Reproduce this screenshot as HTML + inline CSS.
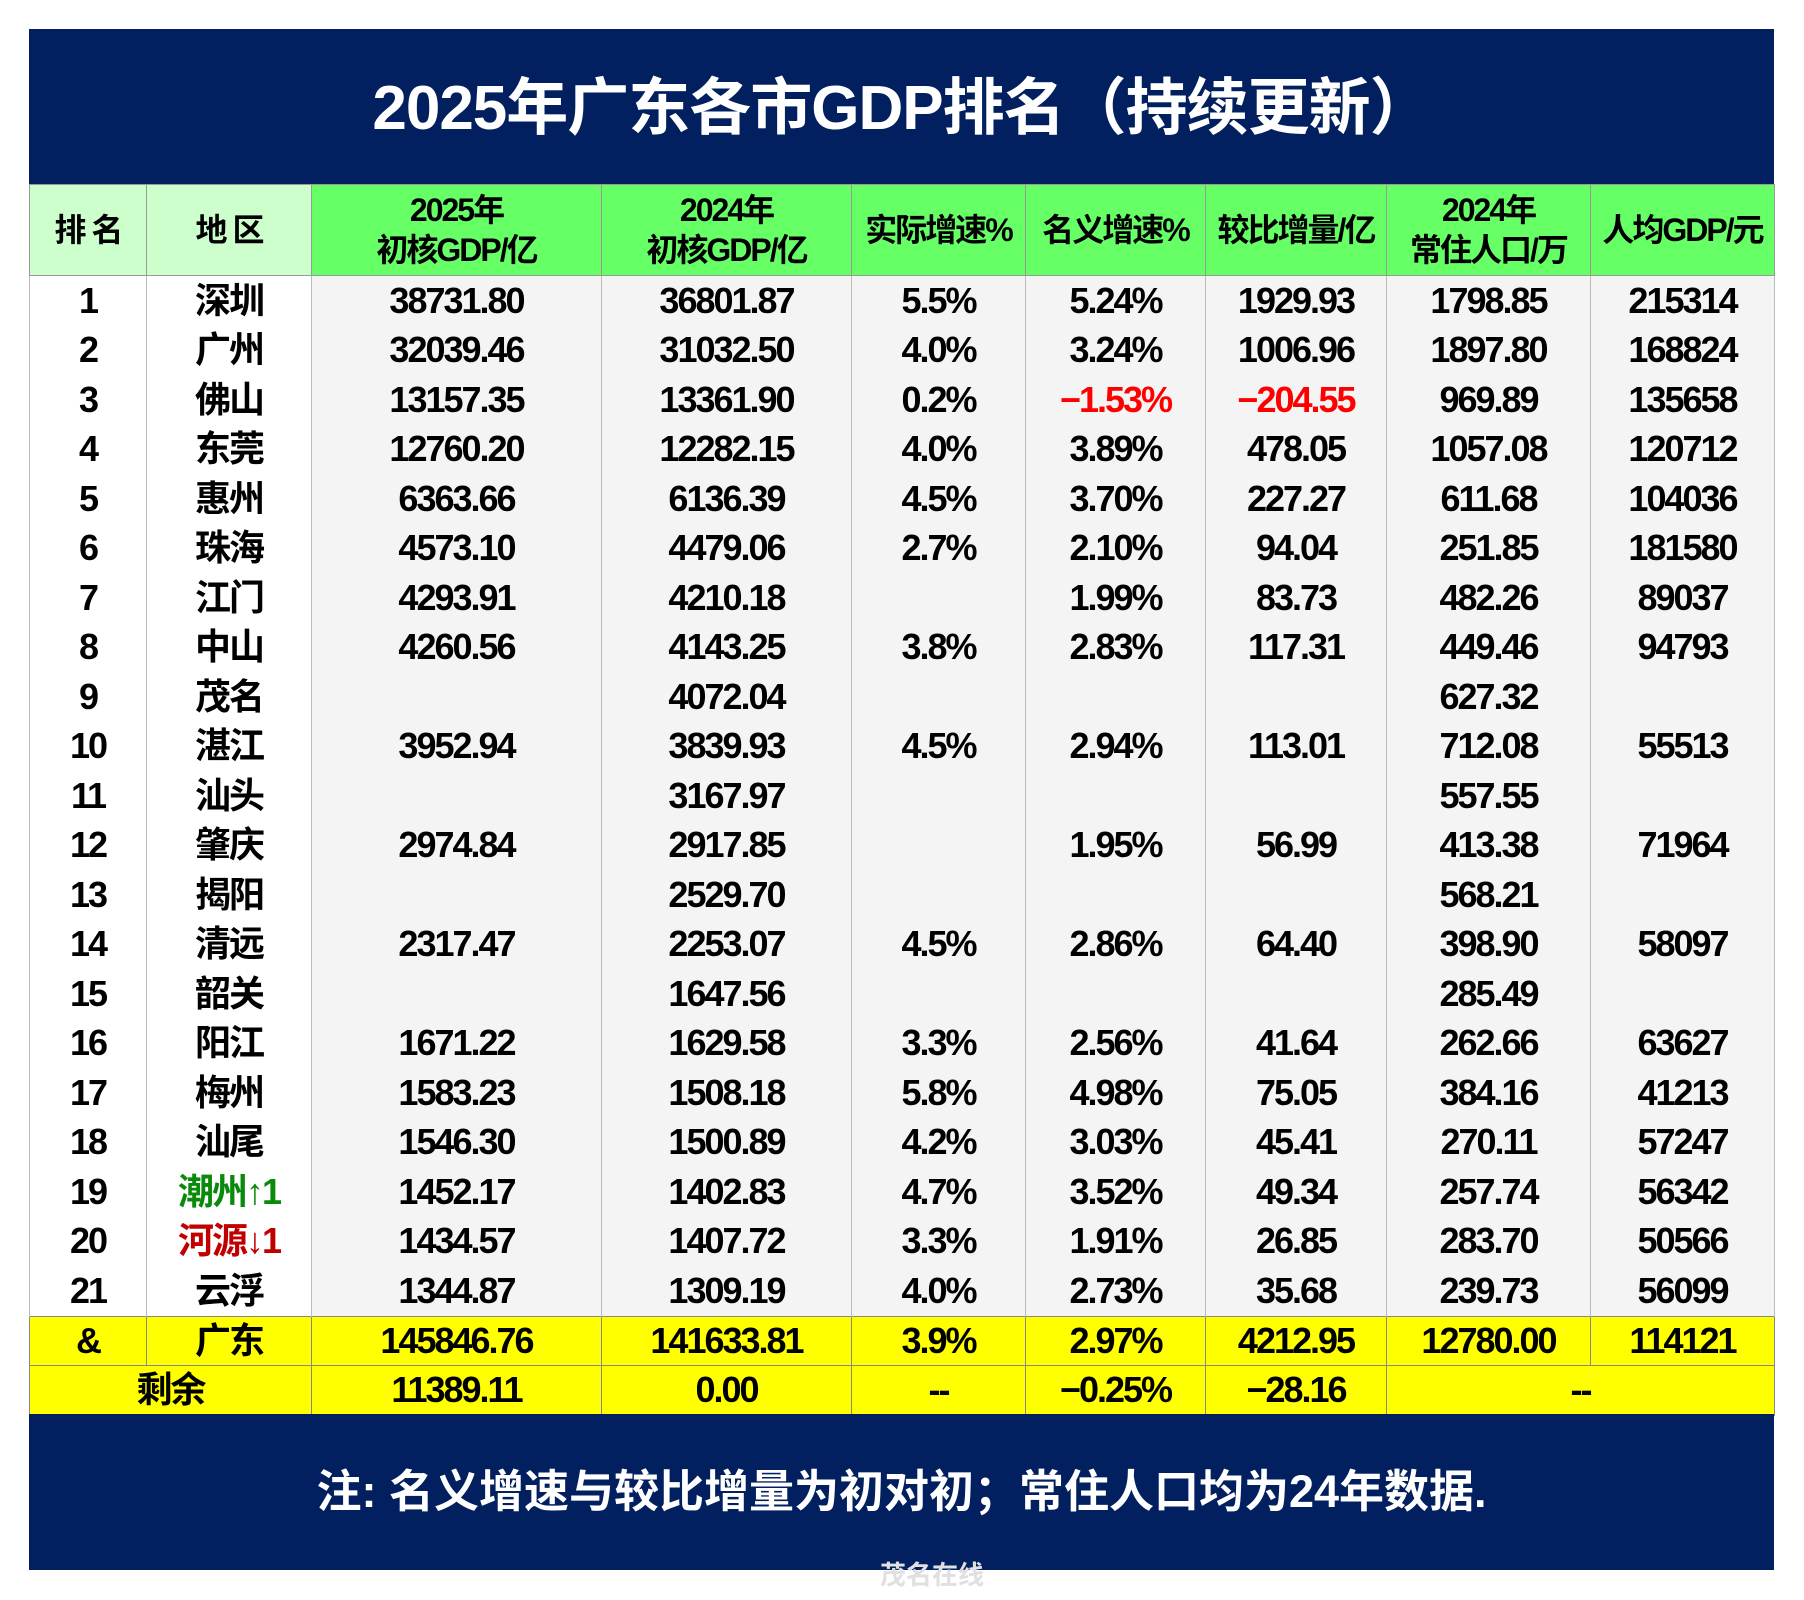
<!DOCTYPE html>
<html><head><meta charset="utf-8"><style>
body{margin:0;width:1804px;height:1600px;background:#fff;position:relative;font-family:"Liberation Sans","Noto Sans CJK SC",sans-serif;font-weight:bold;overflow:hidden}
.band{position:absolute;left:29px;width:1745px;background:#02205f;color:#fff;text-align:center}
#t{top:29px;height:155px;line-height:160px;font-size:62px;letter-spacing:-1px}
#f{top:1414px;height:156px;line-height:156px;font-size:45px}
table{position:absolute;left:29px;top:184px;border-collapse:collapse;table-layout:fixed;width:1745px}
td{border-left:1px solid #bbb;border-right:1px solid #bbb;border-top:none;border-bottom:none;text-align:center;padding:0;font-size:36px;line-height:40px;letter-spacing:-2px;color:#000;background:#f4f4f4;height:49.5px;max-height:49.5px;white-space:nowrap;overflow:hidden}
td.w{background:#fff}
tr.h td{background:#66ff66;height:90px;max-height:90px;font-size:32px;line-height:40px;border:1px solid #999}
tr.h td.l{background:#ccffcc}
tr.y td{background:#ffff00;border:1px solid #888;height:48.5px}
.r{color:#ff0000}.g{color:#0a8a0a}.d{color:#c00000}
</style></head><body>
<div class="band" id="t">2025年广东各市GDP排名（持续更新）</div>
<table>
<colgroup><col style="width:117px"><col style="width:165px"><col style="width:290px"><col style="width:250px"><col style="width:174px"><col style="width:180px"><col style="width:181px"><col style="width:204px"><col style="width:184px"></colgroup>
<tr class="h"><td class="l">排 名</td><td class="l">地 区</td><td>2025年<br>初核GDP/亿</td><td>2024年<br>初核GDP/亿</td><td>实际增速%</td><td>名义增速%</td><td>较比增量/亿</td><td>2024年<br>常住人口/万</td><td>人均GDP/元</td></tr>
<tr><td class="w">1</td><td class="w">深圳</td><td>38731.80</td><td>36801.87</td><td>5.5%</td><td>5.24%</td><td>1929.93</td><td>1798.85</td><td>215314</td></tr>
<tr><td class="w">2</td><td class="w">广州</td><td>32039.46</td><td>31032.50</td><td>4.0%</td><td>3.24%</td><td>1006.96</td><td>1897.80</td><td>168824</td></tr>
<tr><td class="w">3</td><td class="w">佛山</td><td>13157.35</td><td>13361.90</td><td>0.2%</td><td class="r">−1.53%</td><td class="r">−204.55</td><td>969.89</td><td>135658</td></tr>
<tr><td class="w">4</td><td class="w">东莞</td><td>12760.20</td><td>12282.15</td><td>4.0%</td><td>3.89%</td><td>478.05</td><td>1057.08</td><td>120712</td></tr>
<tr><td class="w">5</td><td class="w">惠州</td><td>6363.66</td><td>6136.39</td><td>4.5%</td><td>3.70%</td><td>227.27</td><td>611.68</td><td>104036</td></tr>
<tr><td class="w">6</td><td class="w">珠海</td><td>4573.10</td><td>4479.06</td><td>2.7%</td><td>2.10%</td><td>94.04</td><td>251.85</td><td>181580</td></tr>
<tr><td class="w">7</td><td class="w">江门</td><td>4293.91</td><td>4210.18</td><td></td><td>1.99%</td><td>83.73</td><td>482.26</td><td>89037</td></tr>
<tr><td class="w">8</td><td class="w">中山</td><td>4260.56</td><td>4143.25</td><td>3.8%</td><td>2.83%</td><td>117.31</td><td>449.46</td><td>94793</td></tr>
<tr><td class="w">9</td><td class="w">茂名</td><td></td><td>4072.04</td><td></td><td></td><td></td><td>627.32</td><td></td></tr>
<tr><td class="w">10</td><td class="w">湛江</td><td>3952.94</td><td>3839.93</td><td>4.5%</td><td>2.94%</td><td>113.01</td><td>712.08</td><td>55513</td></tr>
<tr><td class="w">11</td><td class="w">汕头</td><td></td><td>3167.97</td><td></td><td></td><td></td><td>557.55</td><td></td></tr>
<tr><td class="w">12</td><td class="w">肇庆</td><td>2974.84</td><td>2917.85</td><td></td><td>1.95%</td><td>56.99</td><td>413.38</td><td>71964</td></tr>
<tr><td class="w">13</td><td class="w">揭阳</td><td></td><td>2529.70</td><td></td><td></td><td></td><td>568.21</td><td></td></tr>
<tr><td class="w">14</td><td class="w">清远</td><td>2317.47</td><td>2253.07</td><td>4.5%</td><td>2.86%</td><td>64.40</td><td>398.90</td><td>58097</td></tr>
<tr><td class="w">15</td><td class="w">韶关</td><td></td><td>1647.56</td><td></td><td></td><td></td><td>285.49</td><td></td></tr>
<tr><td class="w">16</td><td class="w">阳江</td><td>1671.22</td><td>1629.58</td><td>3.3%</td><td>2.56%</td><td>41.64</td><td>262.66</td><td>63627</td></tr>
<tr><td class="w">17</td><td class="w">梅州</td><td>1583.23</td><td>1508.18</td><td>5.8%</td><td>4.98%</td><td>75.05</td><td>384.16</td><td>41213</td></tr>
<tr><td class="w">18</td><td class="w">汕尾</td><td>1546.30</td><td>1500.89</td><td>4.2%</td><td>3.03%</td><td>45.41</td><td>270.11</td><td>57247</td></tr>
<tr><td class="w">19</td><td class="w g">潮州↑1</td><td>1452.17</td><td>1402.83</td><td>4.7%</td><td>3.52%</td><td>49.34</td><td>257.74</td><td>56342</td></tr>
<tr><td class="w">20</td><td class="w d">河源↓1</td><td>1434.57</td><td>1407.72</td><td>3.3%</td><td>1.91%</td><td>26.85</td><td>283.70</td><td>50566</td></tr>
<tr><td class="w">21</td><td class="w">云浮</td><td>1344.87</td><td>1309.19</td><td>4.0%</td><td>2.73%</td><td>35.68</td><td>239.73</td><td>56099</td></tr>
<tr class="y"><td>&amp;</td><td>广东</td><td>145846.76</td><td>141633.81</td><td>3.9%</td><td>2.97%</td><td>4212.95</td><td>12780.00</td><td>114121</td></tr>
<tr class="y"><td colspan="2">剩余</td><td>11389.11</td><td>0.00</td><td>--</td><td>−0.25%</td><td>−28.16</td><td colspan="2">--</td></tr>
</table>
<div class="band" id="f">注: 名义增速与较比增量为初对初；常住人口均为24年数据.</div>
<div style="position:absolute;left:880px;top:1555px;color:#e0e0e0;font-size:26px">茂名在线</div>
</body></html>
